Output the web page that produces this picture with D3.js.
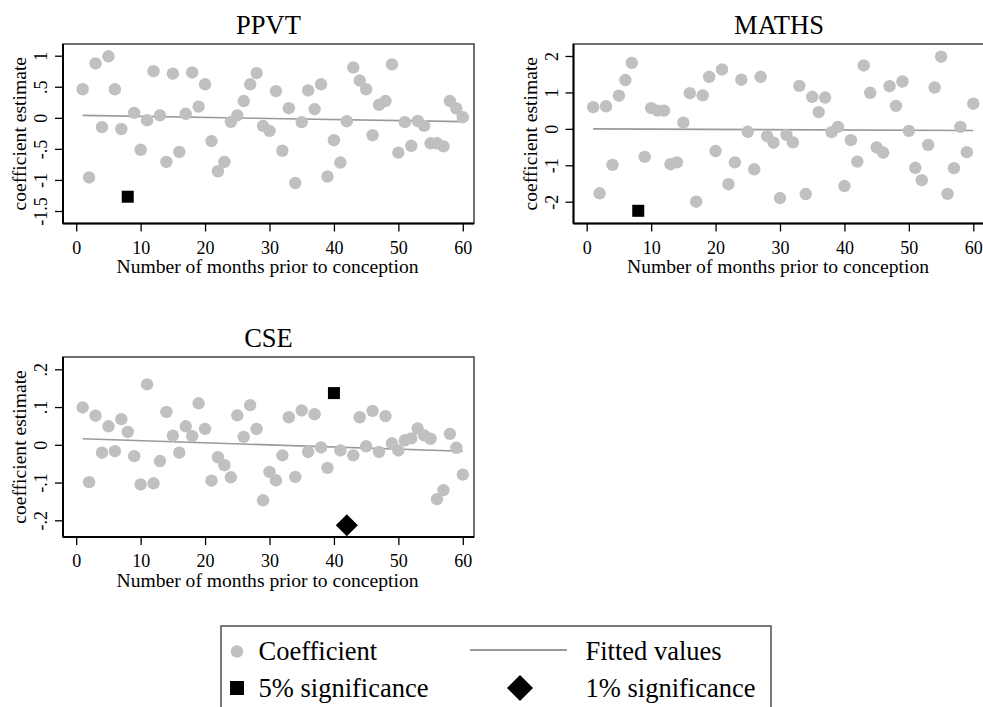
<!DOCTYPE html>
<html>
<head>
<meta charset="utf-8">
<script src="https://cdn.jsdelivr.net/npm/d3@7"></script>
<style>
  html, body { margin: 0; padding: 0; background: #fff; }
  svg { display: block; }
  text { font-family: "Liberation Serif", serif; fill: #000; }
</style>
</head>
<body>
<svg id="chart" width="983" height="707" font-family="Liberation Serif"></svg>
<script>
// ---------- data ----------
const months = d3.range(1, 61);
const xTicks = [0, 10, 20, 30, 40, 50, 60];

const ppvtCoef = [0.46, -0.96, 0.875, -0.15, 0.99, 0.46, -0.18, -1.27, 0.08, -0.515,
  -0.04, 0.75, 0.04, -0.71, 0.71, -0.55, 0.065, 0.73, 0.18, 0.54,
  -0.375, -0.86, -0.71, -0.065, 0.04, 0.27, 0.54, 0.72, -0.13, -0.21,
  0.43, -0.53, 0.155, -1.05, -0.07, 0.44, 0.14, 0.54, -0.945, -0.36,
  -0.72, -0.055, 0.81, 0.60, 0.46, -0.28, 0.21, 0.27, 0.86, -0.56,
  -0.07, -0.45, -0.05, -0.13, -0.41, -0.41, -0.46, 0.27, 0.15, 0.01];
const ppvtSig = [null, null, null, null, null, null, null, "5%", null, null,
  null, null, null, null, null, null, null, null, null, null,
  null, null, null, null, null, null, null, null, null, null,
  null, null, null, null, null, null, null, null, null, null,
  null, null, null, null, null, null, null, null, null, null,
  null, null, null, null, null, null, null, null, null, null];
const ppvtFit = [0.04, -0.062];
const ppvtTicks = [1, 0.5, 0, -0.5, -1, -1.5];
const ppvtTickLabels = ["1", ".5", "0", "-.5", "-1", "-1.5"];

const mathsCoef = [0.595, -1.77, 0.62, -0.99, 0.91, 1.34, 1.81, -2.25, -0.77, 0.57,
  0.50, 0.50, -0.97, -0.92, 0.17, 0.98, -2.0, 0.92, 1.43, -0.61,
  1.63, -1.52, -0.92, 1.35, -0.08, -1.11, 1.43, -0.20, -0.38, -1.90,
  -0.165, -0.37, 1.18, -1.79, 0.88, 0.46, 0.86, -0.09, 0.055, -1.57,
  -0.31, -0.90, 1.74, 0.99, -0.51, -0.65, 1.17, 0.63, 1.30, -0.055,
  -1.07, -1.41, -0.44, 1.135, 1.98, -1.785, -1.08, 0.055, -0.64, 0.69];
const mathsSig = [null, null, null, null, null, null, null, "5%", null, null,
  null, null, null, null, null, null, null, null, null, null,
  null, null, null, null, null, null, null, null, null, null,
  null, null, null, null, null, null, null, null, null, null,
  null, null, null, null, null, null, null, null, null, null,
  null, null, null, null, null, null, null, null, null, null];
const mathsFit = [0.0, -0.045];
const mathsTicks = [2, 1, 0, -1, -2];
const mathsTickLabels = ["2", "1", "0", "-1", "-2"];

const cseCoef = [0.099, -0.099, 0.077, -0.021, 0.049, -0.017, 0.068, 0.034, -0.030, -0.105,
  0.160, -0.102, -0.043, 0.087, 0.024, -0.021, 0.049, 0.023, 0.110, 0.042,
  -0.095, -0.033, -0.054, -0.086, 0.078, 0.021, 0.105, 0.042, -0.147, -0.072,
  -0.094, -0.028, 0.073, -0.085, 0.091, -0.019, 0.081, -0.007, -0.061, 0.137,
  -0.015, -0.213, -0.028, 0.073, -0.004, 0.090, -0.019, 0.076, 0.004, -0.015,
  0.012, 0.017, 0.043, 0.025, 0.016, -0.144, -0.120, 0.029, -0.008, -0.079];
const cseSig = [null, null, null, null, null, null, null, null, null, null,
  null, null, null, null, null, null, null, null, null, null,
  null, null, null, null, null, null, null, null, null, null,
  null, null, null, null, null, null, null, null, null, "5%",
  null, "1%", null, null, null, null, null, null, null, null,
  null, null, null, null, null, null, null, null, null, null];
const cseFit = [0.016, -0.017];
const cseTicks = [0.2, 0.1, 0, -0.1, -0.2];
const cseTickLabels = [".2", ".1", "0", "-.1", "-.2"];

const legendLabels = ["Coefficient", "Fitted values", "5% significance", "1% significance"];
const xTitle = "Number of months prior to conception";
const yTitle = "coefficient estimate";

// ---------- layout ----------
const FONT = "Liberation Serif";
const COL_GRAY = "#c0c0c0";
const COL_FIT = "#9a9a9a";
const svg = d3.select("#chart");

const panels = [
  { title: "PPVT", coef: ppvtCoef, sig: ppvtSig, fit: ppvtFit, ticks: ppvtTicks, labels: ppvtTickLabels,
    left: 63, top: 44, w: 411, h: 179.5, yTopPx: 55.7, yBotPx: 211 },
  { title: "MATHS", coef: mathsCoef, sig: mathsSig, fit: mathsFit, ticks: mathsTicks, labels: mathsTickLabels,
    left: 573.5, top: 44, w: 411, h: 179.5, yTopPx: 56, yBotPx: 201.7 },
  { title: "CSE", coef: cseCoef, sig: cseSig, fit: cseFit, ticks: cseTicks, labels: cseTickLabels,
    left: 63, top: 357, w: 411, h: 180, yTopPx: 369.3, yBotPx: 520.3 }
];

panels.forEach(p => {
  const g = svg.append("g");
  const x = d3.scaleLinear().domain([0, 60]).range([p.left + 13.2, p.left + 399.8]);
  const y = d3.scaleLinear().domain([p.ticks[p.ticks.length - 1], p.ticks[0]]).range([p.yBotPx, p.yTopPx]);
  const bottom = p.top + p.h;

  // title
  g.append("text").attr("x", p.left + p.w / 2).attr("y", p.top - 10.5)
    .attr("text-anchor", "middle").attr("font-family", FONT).attr("font-size", 26.5).text(p.title);

  // plot region outline
  g.append("rect").attr("x", p.left).attr("y", p.top).attr("width", p.w).attr("height", p.h)
    .attr("fill", "none").attr("stroke", "#404040").attr("stroke-width", 1.5);

  // fitted line
  const fitData = [{ m: months[0], v: p.fit[0] }, { m: months[months.length - 1], v: p.fit[1] }];
  g.append("path").datum(fitData)
    .attr("d", d3.line().x(d => x(d.m)).y(d => y(d.v)))
    .attr("stroke", COL_FIT).attr("stroke-width", 1.6).attr("fill", "none");

  const pts = months.map((m, i) => ({ m, v: p.coef[i], s: p.sig[i] }));
  g.selectAll("circle.c").data(pts.filter(d => !d.s)).enter().append("circle")
    .attr("cx", d => x(d.m)).attr("cy", d => y(d.v)).attr("r", 6.2).attr("fill", COL_GRAY);
  g.selectAll("rect.s").data(pts.filter(d => d.s === "5%")).enter().append("rect")
    .attr("x", d => x(d.m) - 6).attr("y", d => y(d.v) - 6).attr("width", 12).attr("height", 12).attr("fill", "#000");
  g.selectAll("path.d").data(pts.filter(d => d.s === "1%")).enter().append("path")
    .attr("transform", d => `translate(${x(d.m)},${y(d.v)})`)
    .attr("d", "M0,-11L11,0L0,11L-11,0Z").attr("fill", "#000");

  // x axis
  const xa = g.append("g").attr("transform", `translate(0,${bottom})`)
    .call(d3.axisBottom(x).tickValues(xTicks).tickSize(8).tickPadding(0).tickFormat(d3.format("d")));
  xa.attr("font-family", FONT);
  xa.select(".domain").remove();
  xa.selectAll(".tick line").attr("stroke", "#000").attr("stroke-width", 1.3);
  xa.selectAll(".tick text").attr("font-size", 18).attr("font-family", FONT)
    .attr("y", 30).attr("dy", 0).attr("fill", "#000");
  g.append("line").attr("x1", p.left).attr("x2", p.left + p.w).attr("y1", bottom).attr("y2", bottom)
    .attr("stroke", "#000").attr("stroke-width", 2);

  // y axis
  const ya = g.append("g").attr("transform", `translate(${p.left},0)`)
    .call(d3.axisLeft(y).tickValues(p.ticks).tickSize(8).tickFormat((d, i) => p.labels[i]));
  ya.attr("font-family", FONT);
  ya.select(".domain").remove();
  ya.selectAll(".tick line").attr("stroke", "#000").attr("stroke-width", 1.3);
  ya.selectAll(".tick text").attr("font-size", 18).attr("font-family", FONT)
    .attr("x", null).attr("dy", 0).attr("fill", "#000")
    .attr("text-anchor", "middle").attr("transform", "translate(-16,0) rotate(-90)");
  g.append("line").attr("x1", p.left).attr("x2", p.left).attr("y1", p.top).attr("y2", bottom)
    .attr("stroke", "#000").attr("stroke-width", 2);

  // axis titles
  g.append("text").attr("x", p.left + p.w / 2 - 1).attr("y", bottom + 49.5)
    .attr("text-anchor", "middle").attr("font-family", FONT).attr("font-size", 19.6).text(xTitle);
  g.append("text").attr("transform", `translate(${p.left - 37},${p.top + p.h / 2}) rotate(-90)`)
    .attr("text-anchor", "middle").attr("font-family", FONT).attr("font-size", 19.6).text(yTitle);
});

// ---------- legend ----------
const lg = svg.append("g").attr("font-family", FONT);
lg.append("rect").attr("x", 221).attr("y", 626).attr("width", 550).attr("height", 100)
  .attr("fill", "#fff").attr("stroke", "#333").attr("stroke-width", 1.3);
lg.append("circle").attr("cx", 237).attr("cy", 651.5).attr("r", 6.2).attr("fill", COL_GRAY);
lg.append("text").attr("x", 258.5).attr("y", 660).attr("font-family", FONT).attr("font-size", 26.5).text(legendLabels[0]);
lg.append("line").attr("x1", 470).attr("x2", 567).attr("y1", 650).attr("y2", 650)
  .attr("stroke", COL_FIT).attr("stroke-width", 1.8);
lg.append("text").attr("x", 585.5).attr("y", 660).attr("font-family", FONT).attr("font-size", 26.5).text(legendLabels[1]);
lg.append("rect").attr("x", 230).attr("y", 681).attr("width", 14).attr("height", 14).attr("fill", "#000");
lg.append("text").attr("x", 258.5).attr("y", 697).attr("font-family", FONT).attr("font-size", 26.5).text(legendLabels[2]);
lg.append("path").attr("transform", "translate(520,688)").attr("d", "M0,-13L13,0L0,13L-13,0Z").attr("fill", "#000");
lg.append("text").attr("x", 585.5).attr("y", 697).attr("font-family", FONT).attr("font-size", 26.5).text(legendLabels[3]);
</script>
</body>
</html>
